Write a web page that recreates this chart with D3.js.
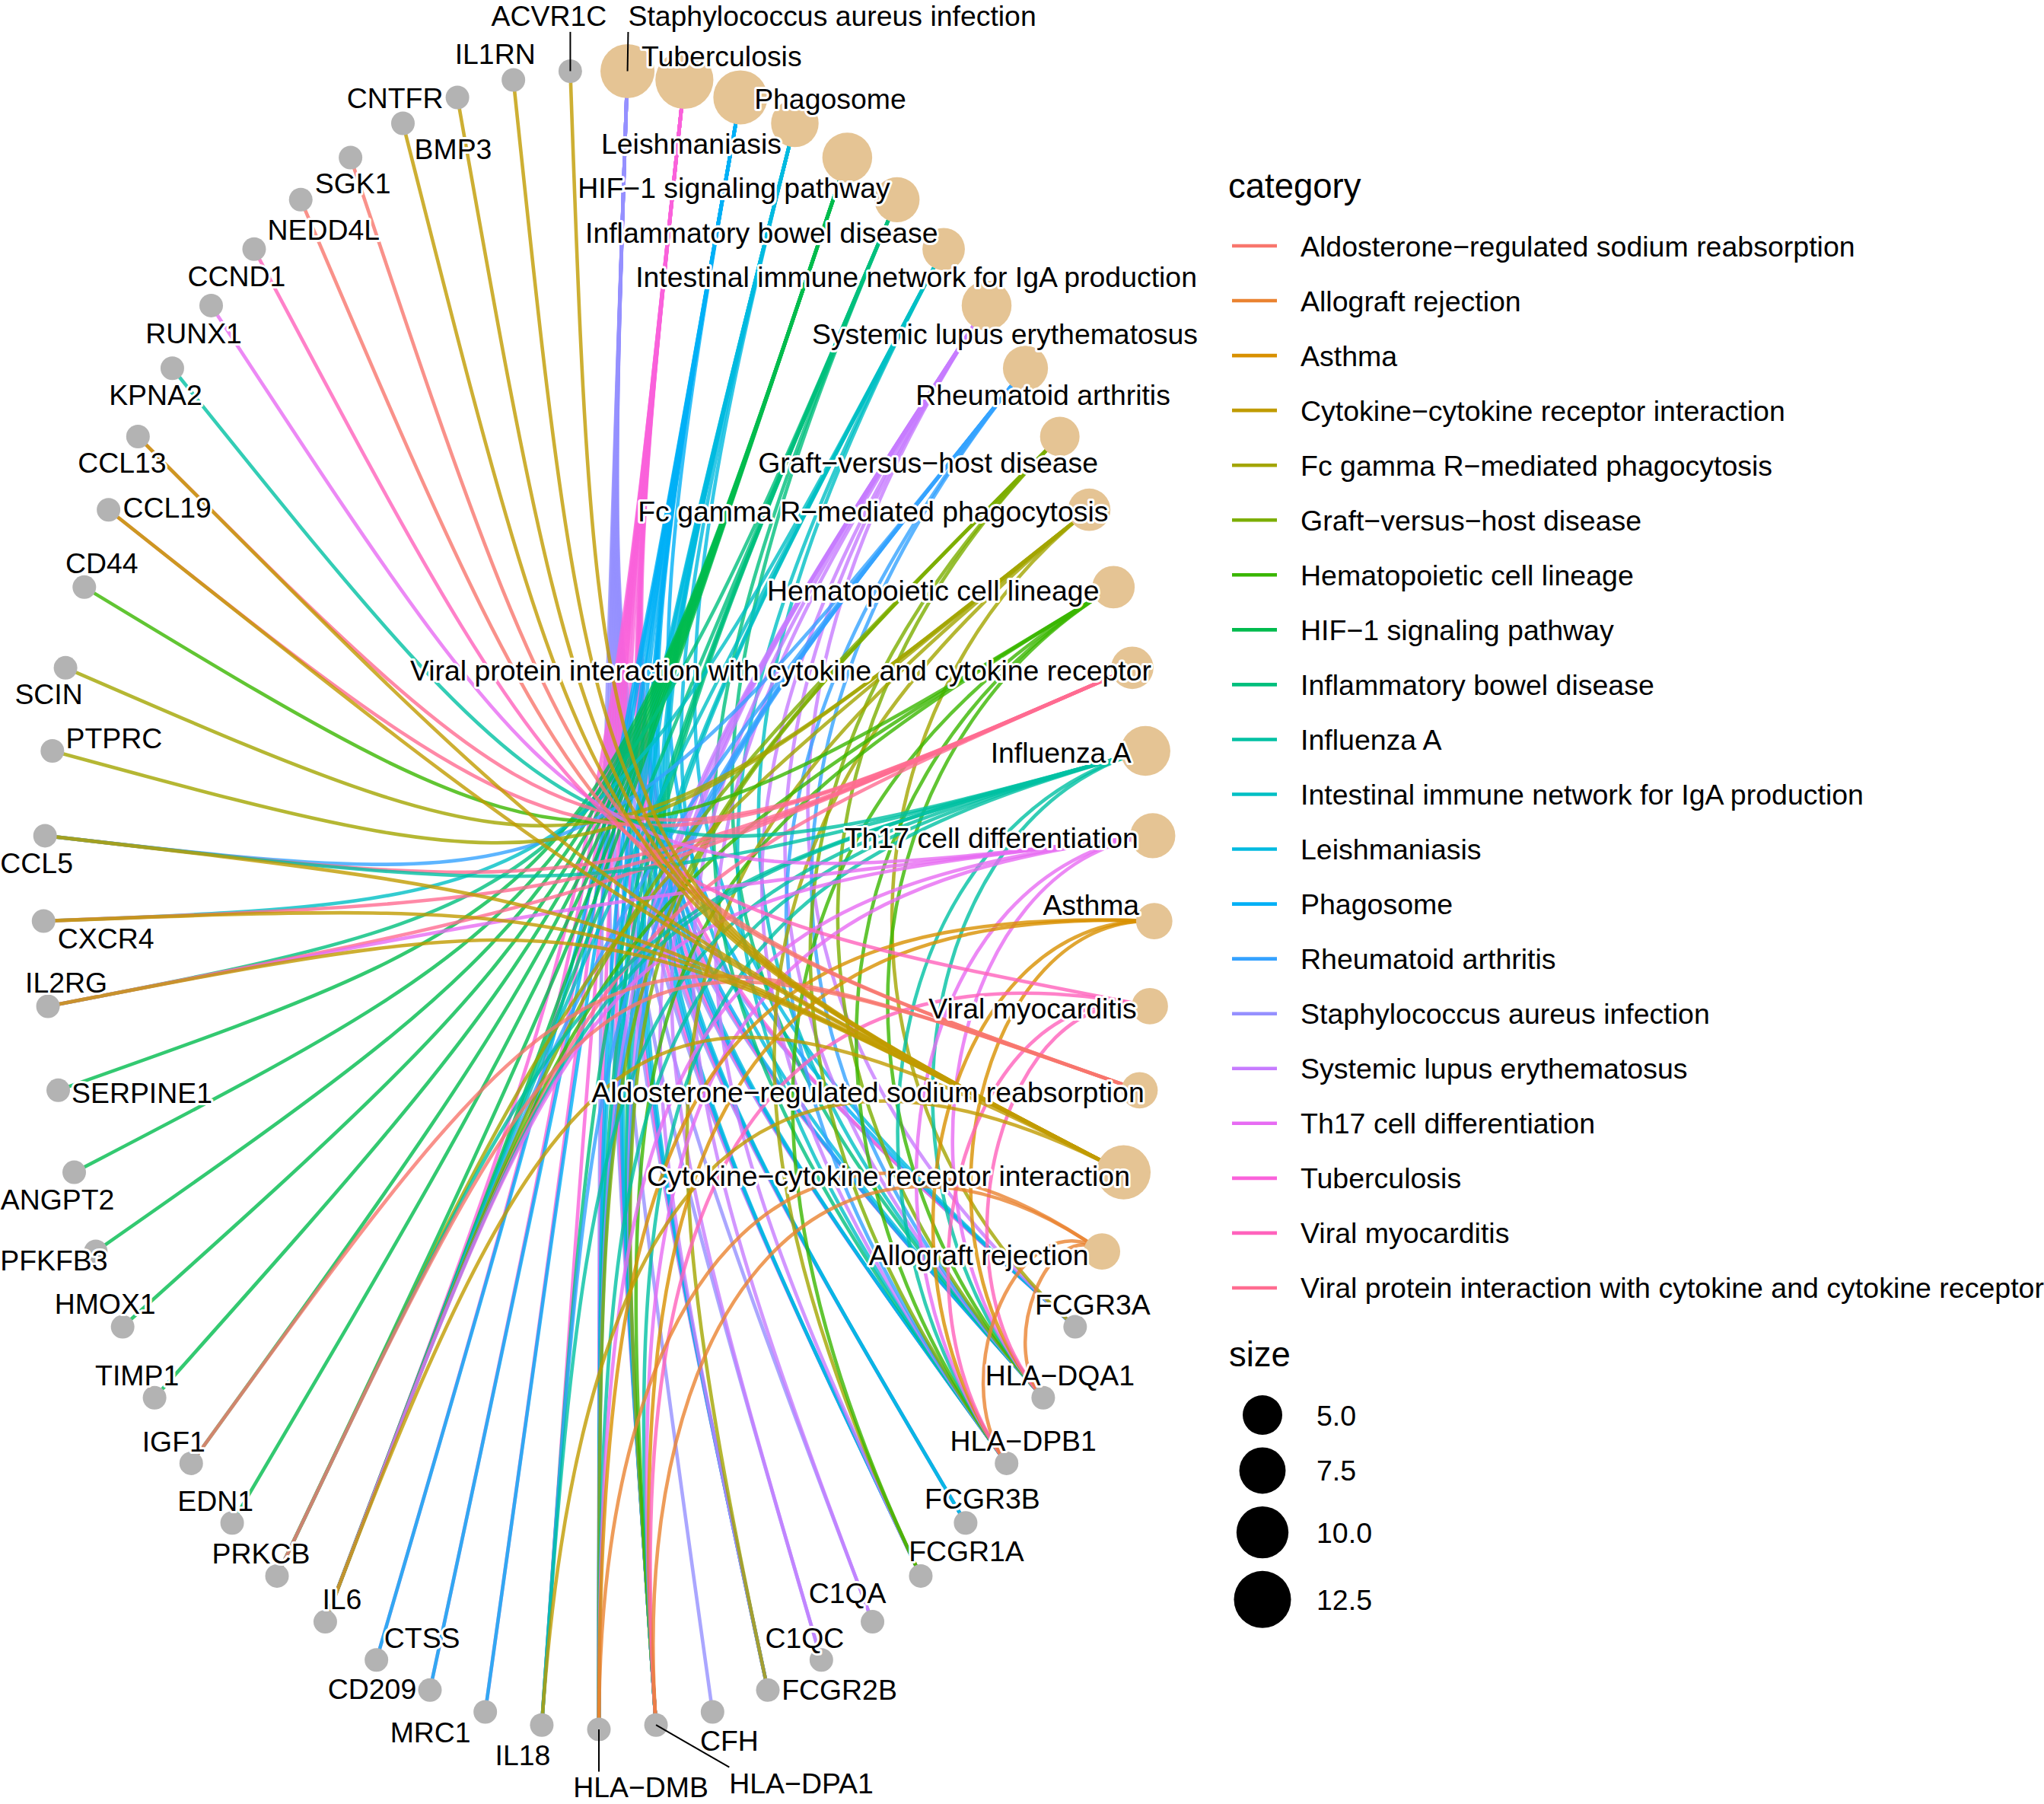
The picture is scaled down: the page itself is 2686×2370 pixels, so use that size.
<!DOCTYPE html>
<html>
<head>
<meta charset="utf-8">
<script src="https://cdnjs.cloudflare.com/ajax/libs/d3/7.8.5/d3.min.js"></script>
<style>
  body { margin: 0; background: #fff; }
  text { font-family: "Liberation Sans", Arial, Helvetica, sans-serif; }
</style>
</head>
<body>
<svg id="chart"></svg>
<script>
// enriched KEGG categories, in result order (this is also the order round the circle)
var categories = [
  "Staphylococcus aureus infection", "Tuberculosis", "Phagosome", "Leishmaniasis",
  "HIF-1 signaling pathway", "Inflammatory bowel disease",
  "Intestinal immune network for IgA production", "Systemic lupus erythematosus",
  "Rheumatoid arthritis", "Graft-versus-host disease", "Fc gamma R-mediated phagocytosis",
  "Hematopoietic cell lineage", "Viral protein interaction with cytokine and cytokine receptor",
  "Influenza A", "Th17 cell differentiation", "Asthma", "Viral myocarditis",
  "Aldosterone-regulated sodium reabsorption", "Cytokine-cytokine receptor interaction",
  "Allograft rejection"
];

// genes of each category (same order as categories)
var geneLists = [
  ["FCGR3A", "HLA-DQA1", "HLA-DPB1", "FCGR3B", "FCGR1A", "C1QA", "C1QC", "FCGR2B", "CFH", "HLA-DPA1", "HLA-DMB"],
  ["FCGR3A", "HLA-DQA1", "HLA-DPB1", "FCGR3B", "FCGR1A", "FCGR2B", "HLA-DPA1", "HLA-DMB", "IL18", "MRC1", "CD209", "CTSS", "IL6"],
  ["FCGR3A", "HLA-DQA1", "HLA-DPB1", "FCGR3B", "FCGR1A", "FCGR2B", "HLA-DPA1", "HLA-DMB", "MRC1", "CD209", "CTSS"],
  ["FCGR3A", "HLA-DQA1", "HLA-DPB1", "FCGR3B", "FCGR1A", "FCGR2B", "HLA-DPA1", "HLA-DMB"],
  ["IL6", "PRKCB", "EDN1", "IGF1", "TIMP1", "HMOX1", "PFKFB3", "ANGPT2", "SERPINE1"],
  ["HLA-DQA1", "HLA-DPB1", "HLA-DPA1", "HLA-DMB", "IL18", "IL6", "IL2RG"],
  ["HLA-DQA1", "HLA-DPB1", "HLA-DPA1", "HLA-DMB", "IL6", "CXCR4"],
  ["FCGR3A", "HLA-DQA1", "HLA-DPB1", "FCGR1A", "C1QA", "C1QC", "FCGR2B", "HLA-DPA1", "HLA-DMB"],
  ["HLA-DQA1", "HLA-DPB1", "HLA-DPA1", "HLA-DMB", "IL18", "IL6", "CCL5"],
  ["HLA-DQA1", "HLA-DPB1", "HLA-DPA1", "HLA-DMB", "IL6"],
  ["FCGR3A", "FCGR1A", "FCGR2B", "PRKCB", "PTPRC", "SCIN"],
  ["FCGR1A", "HLA-DQA1", "HLA-DPB1", "HLA-DPA1", "IL6", "CD44"],
  ["IL6", "IL2RG", "CXCR4", "CCL5", "CCL19", "CCL13"],
  ["HLA-DQA1", "HLA-DPB1", "HLA-DPA1", "HLA-DMB", "IL18", "IL6", "PRKCB", "CCL5", "KPNA2"],
  ["HLA-DQA1", "HLA-DPB1", "HLA-DPA1", "HLA-DMB", "IL6", "IL2RG", "RUNX1"],
  ["HLA-DQA1", "HLA-DPB1", "HLA-DPA1", "HLA-DMB"],
  ["HLA-DQA1", "HLA-DPB1", "HLA-DPA1", "CCND1"],
  ["PRKCB", "IGF1", "NEDD4L", "SGK1"],
  ["IL18", "IL6", "IL2RG", "CXCR4", "CCL5", "CCL19", "CCL13", "BMP3", "CNTFR", "IL1RN", "ACVR1C"],
  ["HLA-DQA1", "HLA-DPB1", "HLA-DPA1", "HLA-DMB"]
];

var sizeBreaks = [5, 7.5, 10, 12.5];

// ggplot hue palette for 20 levels
var palette = ["#F8766D", "#EA8331", "#D89000", "#C09B00", "#A3A500", "#7CAE00", "#39B600",
  "#00BB4E", "#00BF7D", "#00C1A3", "#00BFC4", "#00BAE0", "#00B0F6", "#35A2FF", "#9590FF",
  "#C77CFF", "#E76BF3", "#FA62DB", "#FF62BC", "#FF6C91"];

// where the repelled labels ended up, relative to their node
var labelNudge = {
  "Staphylococcus aureus infection": [269, -73], "Tuberculosis": [49, -31], "Phagosome": [118, 2],
  "Leishmaniasis": [-136, 26], "HIF-1 signaling pathway": [-149, 40],
  "Inflammatory bowel disease": [-178, 43], "Intestinal immune network for IgA production": [-36, 36],
  "Systemic lupus erythematosus": [24, 37], "Rheumatoid arthritis": [23, 35],
  "Graft-versus-host disease": [-173, 34], "Fc gamma R-mediated phagocytosis": [-284, 2],
  "Hematopoietic cell lineage": [-237, 4],
  "Viral protein interaction with cytokine and cytokine receptor": [-462, 3],
  "Influenza A": [-111, 2], "Th17 cell differentiation": [-212, 3], "Asthma": [-83, -22],
  "Viral myocarditis": [-154, 3], "Aldosterone-regulated sodium reabsorption": [-357, 2],
  "Cytokine-cytokine receptor interaction": [-309, 4], "Allograft rejection": [-162, 4],
  "ACVR1C": [-28, -73], "IL1RN": [-24, -34], "CNTFR": [-82, 1], "BMP3": [66, 33], "SGK1": [3, 34],
  "NEDD4L": [30, 39], "CCND1": [-23, 35], "RUNX1": [-23, 36], "KPNA2": [-22, 35], "CCL13": [-21, 34],
  "CCL19": [77, -3], "CD44": [23, -32], "SCIN": [-22, 34], "PTPRC": [81, -17], "CCL5": [-11, 36],
  "CXCR4": [82, 22], "IL2RG": [24, -31], "SERPINE1": [110, 3], "ANGPT2": [-22, 35], "PFKFB3": [-55, 11],
  "HMOX1": [-23, -31], "TIMP1": [-23, -30], "IGF1": [-23, -29], "EDN1": [-22, -29], "PRKCB": [-21, -30],
  "IL6": [22, -30], "CTSS": [60, -29], "CD209": [-76, -2], "MRC1": [-72, 27], "IL18": [-25, 39],
  "HLA-DMB": [55, 76], "HLA-DPA1": [191, 76], "CFH": [22, 38], "FCGR2B": [94, -1], "C1QC": [-22, -29],
  "C1QA": [-33, -38], "FCGR1A": [60, -33], "FCGR3B": [22, -32], "HLA-DPB1": [22, -30],
  "HLA-DQA1": [22, -30], "FCGR3A": [23, -30]
};
var withSegment = ["ACVR1C", "Staphylococcus aureus infection", "HLA-DMB", "HLA-DPA1"];

var W = 2686, H = 2370;
var svg = d3.select("#chart").attr("width", W).attr("height", H);
svg.append("rect").attr("width", W).attr("height", H).attr("fill", "#fff");

var minus = function(s) { return s.replace(/-/g, "\u2212"); };

// genes in order of first appearance
var genes = [];
geneLists.forEach(function(gl) { gl.forEach(function(g) { if (genes.indexOf(g) < 0) genes.push(g); }); });

var nodes = categories.map(function(c, i) { return {name: c, cat: true, size: geneLists[i].length}; })
  .concat(genes.map(function(g) { return {name: g, cat: false}; }));
var n = nodes.length;

var x = d3.scaleLinear().domain([-1, 1]).range([57, 1517]);
var y = d3.scaleLinear().domain([-1, 1]).range([2272, 92]);
var r = d3.scaleSqrt().domain([0, 12.5]).range([6.2, 37.5]);
var color = d3.scaleOrdinal()
  .domain(categories.slice().sort(function(a, b) { return a.toLowerCase().localeCompare(b.toLowerCase()); }))
  .range(palette);

var byName = {};
nodes.forEach(function(d, i) {
  d.a = 2 * Math.PI * (i + 0.5) / n;
  d.x = x(Math.sin(d.a));
  d.y = y(Math.cos(d.a));
  byName[d.name] = d;
});

var edges = [];
categories.forEach(function(c, i) {
  geneLists[i].forEach(function(g) { edges.push({cat: c, s: byName[c], t: byName[g]}); });
});

// arcs bend towards the centre, more so the further apart the two nodes are
var cx = x(0), cy = y(0);
function arc(e) {
  var da = Math.abs(e.s.a - e.t.a);
  if (da > Math.PI) da = 2 * Math.PI - da;
  var k = 1 - Math.min(1, 1.6 * da / Math.PI);
  var p = d3.path();
  p.moveTo(e.s.x, e.s.y);
  p.bezierCurveTo(cx + (e.s.x - cx) * k, cy + (e.s.y - cy) * k,
                  cx + (e.t.x - cx) * k, cy + (e.t.y - cy) * k, e.t.x, e.t.y);
  return p.toString();
}

svg.append("g").selectAll("path").data(edges).join("path")
  .attr("d", arc)
  .attr("fill", "none")
  .attr("stroke", function(e) { return color(e.cat); })
  .attr("stroke-width", 4.6)
  .attr("stroke-opacity", 0.8);

svg.append("g").selectAll("circle").data(nodes).join("circle")
  .attr("cx", function(d) { return d.x; })
  .attr("cy", function(d) { return d.y; })
  .attr("r", function(d) { return d.cat ? r(d.size) : 15.5; })
  .attr("fill", function(d) { return d.cat ? "#E5C494" : "#B3B3B3"; });

// labels
var segG = svg.append("g");
var labG = svg.append("g");
nodes.forEach(function(d) {
  var nd = labelNudge[d.name] || [0, 0];
  var t = labG.append("text")
    .attr("x", d.x + nd[0]).attr("y", d.y + nd[1]).attr("dy", "0.36em")
    .attr("text-anchor", "middle")
    .attr("font-size", 37.4)
    .attr("fill", "#000")
    .attr("stroke", "#fff").attr("stroke-width", 6)
    .attr("stroke-linejoin", "round").attr("paint-order", "stroke")
    .text(minus(d.name));
  if (withSegment.indexOf(d.name) >= 0) {
    var b = t.node().getBBox();
    var px = Math.max(b.x, Math.min(d.x, b.x + b.width));
    var py = Math.max(b.y, Math.min(d.y, b.y + b.height));
    segG.append("line")
      .attr("x1", d.x).attr("y1", d.y).attr("x2", px).attr("y2", py)
      .attr("stroke", "#000").attr("stroke-width", 2);
  }
});

// legend: category
var lg = svg.append("g");
lg.append("text").attr("x", 1614).attr("y", 260).attr("font-size", 45.5).text("category");
color.domain().forEach(function(c, i) {
  var yy = 323 + i * 72.05;
  lg.append("line").attr("x1", 1619).attr("x2", 1678).attr("y1", yy).attr("y2", yy)
    .attr("stroke", color(c)).attr("stroke-width", 4.6);
  lg.append("text").attr("x", 1709).attr("y", yy).attr("dy", "0.36em")
    .attr("font-size", 37.5).text(minus(c));
});

// legend: size
lg.append("text").attr("x", 1615).attr("y", 1795).attr("font-size", 45.5).text("size");
var yAcc = 1859;
sizeBreaks.forEach(function(s, i) {
  if (i > 0) yAcc += r(sizeBreaks[i - 1]) + r(s) + 16.5;
  lg.append("circle").attr("cx", 1659).attr("cy", yAcc).attr("r", r(s)).attr("fill", "#000");
  lg.append("text").attr("x", 1730).attr("y", yAcc).attr("dy", "0.36em")
    .attr("font-size", 37.5).text(d3.format(".1f")(s));
});
</script>
</body>
</html>
